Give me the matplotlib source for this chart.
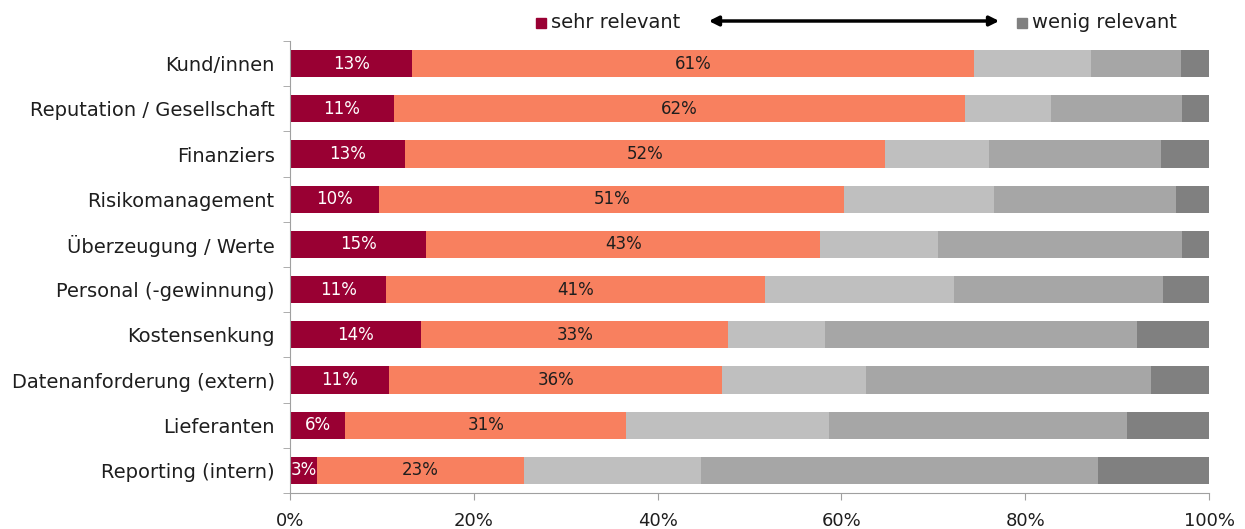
import matplotlib
matplotlib.use("Agg")
import matplotlib.pyplot as plt
import numpy as np

categories = ["Kund/innen", "Reputation / Gesellschaft", "Finanziers", "Risikomanagement",
              "Überzeugung / Werte", "Personal (-gewinnung)", "Kostensenkung",
              "Datenanforderung (extern)", "Lieferanten", "Reporting (intern)"]
sehr = [13.3, 11.3, 12.5, 9.7, 14.8, 10.5, 14.3, 10.8, 6.0, 2.9]
eher = [61.1, 62.1, 52.2, 50.6, 42.9, 41.2, 33.4, 36.2, 30.6, 22.6]
mittel = [12.8, 9.4, 11.4, 16.3, 12.8, 20.5, 10.5, 15.7, 22.1, 19.2]
wenig_eher = [9.7, 14.3, 18.7, 19.8, 26.6, 22.8, 34.0, 31.0, 32.4, 43.2]
wenig = [3.1, 2.9, 5.2, 3.6, 2.9, 5.0, 7.8, 6.3, 8.9, 12.1]
sehr_labels = ["13%", "11%", "13%", "10%", "15%", "11%", "14%", "11%", "6%", "3%"]
eher_labels = ["61%", "62%", "52%", "51%", "43%", "41%", "33%", "36%", "31%", "23%"]
xticks = [0, 20, 40, 60, 80, 100]
xtick_labels = ["0%", "20%", "40%", "60%", "80%", "100%"]

colors = ["#990033", "#F8805F", "#BFBFBF", "#A6A6A6", "#808080"]
FONT = "DejaVu Sans"
TXT = "#1E1E1E"

W, H = 1245, 529
fig = plt.figure(figsize=(W / 100, H / 100), dpi=100)
ax = fig.add_axes([290 / W, 1 - 493 / H, 919 / W, 452 / H])

y = np.arange(len(categories))
series = [sehr, eher, mittel, wenig_eher, wenig]
left = np.zeros(len(categories))
for vals, c in zip(series, colors):
    ax.barh(y, vals, left=left, height=0.6, color=c, edgecolor="none")
    left += np.array(vals)

for i in range(len(categories)):
    ax.text(sehr[i] / 2, y[i], sehr_labels[i], ha="center", va="center",
            color="white", fontsize=12, family=FONT)
    ax.text(sehr[i] + eher[i] / 2, y[i], eher_labels[i], ha="center", va="center",
            color=TXT, fontsize=12, family=FONT)

ax.set_xlim(0, 100)
ax.set_ylim(len(categories) - 0.5, -0.5)
ax.set_xticks(xticks)
ax.set_xticklabels(xtick_labels, family=FONT, fontsize=13, color=TXT)
ax.set_yticks(y)
ax.set_yticklabels(categories, family=FONT, fontsize=14, color=TXT)
ax.tick_params(axis="y", length=0, pad=11)
ax.tick_params(axis="x", length=5, color="#A0A0A0", pad=9)
ax.set_yticks(np.arange(-0.5, len(categories), 1), minor=True)
ax.tick_params(axis="y", which="minor", length=5, color="#A0A0A0")
for s in ["top", "right"]:
    ax.spines[s].set_visible(False)
for s in ["left", "bottom"]:
    ax.spines[s].set_color("#A0A0A0")

# legend at top
fig.patches.append(plt.Rectangle((536 / W, 1 - 28 / H), 10 / W, 10 / H,
                                 transform=fig.transFigure, color="#990033"))
fig.text(551 / W, 1 - 22 / H, "sehr relevant", family=FONT, fontsize=14,
         va="center", ha="left", color=TXT)
fig.patches.append(plt.Rectangle((1017 / W, 1 - 28 / H), 10 / W, 10 / H,
                                 transform=fig.transFigure, color="#808080"))
fig.text(1032 / W, 1 - 22 / H, "wenig relevant", family=FONT, fontsize=14,
         va="center", ha="left", color=TXT)
fig.add_artist(matplotlib.patches.FancyArrowPatch(
    (706 / W, 1 - 21 / H), (1002 / W, 1 - 21 / H), transform=fig.transFigure,
    arrowstyle="<|-|>", mutation_scale=14, color="black", lw=2.5))

fig.savefig("out.png", dpi=100)
